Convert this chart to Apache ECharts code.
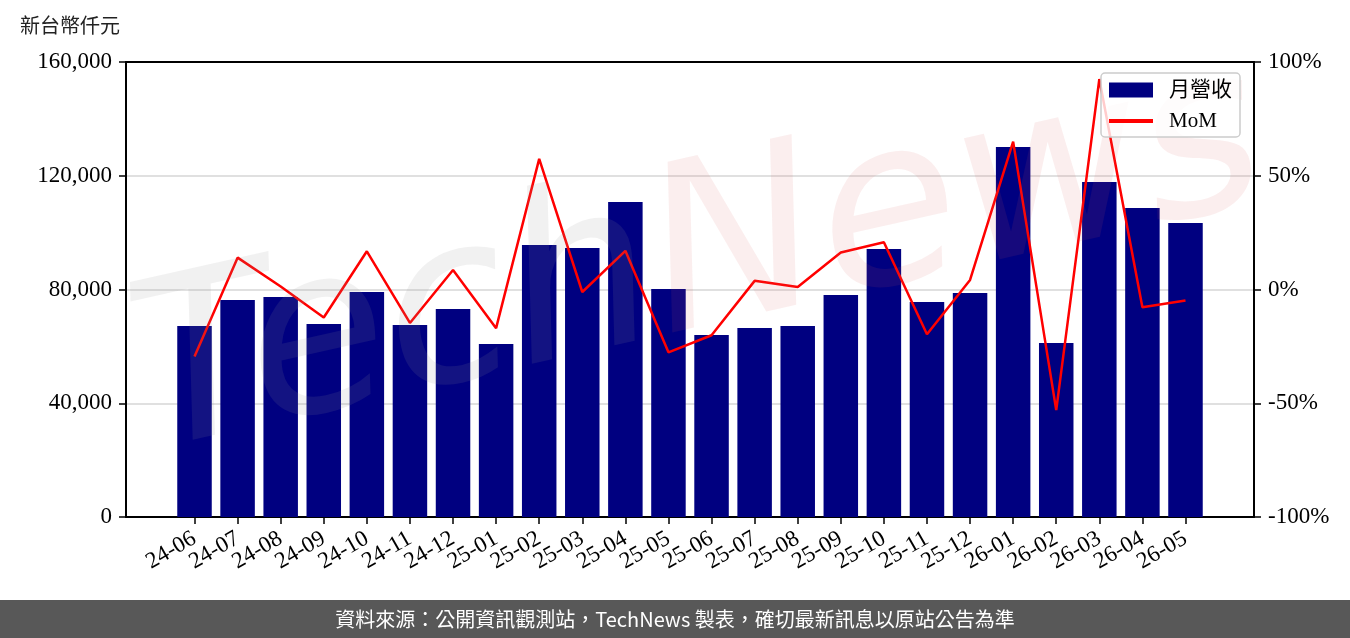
<!DOCTYPE html>
<html>
<head>
<meta charset="utf-8">
<script src="https://cdn.jsdelivr.net/npm/echarts@6/dist/echarts.min.js"></script>
<style>
html,body{margin:0;padding:0;background:#fff;}
#chart{width:1350px;height:638px;}
</style>
</head>
<body>
<div id="chart"></div>
<script>
const categories = ['24-06','24-07','24-08','24-09','24-10','24-11','24-12','25-01','25-02','25-03','25-04','25-05','25-06','25-07','25-08','25-09','25-10','25-11','25-12','26-01','26-02','26-03','26-04','26-05'];
const revenue = [67160, 76300, 77350, 67860, 79110, 67500, 73130, 60830, 95640, 94580, 110750, 80160, 64000, 66450, 67150, 78050, 94230, 75600, 78760, 130090, 61180, 117790, 108640, 103370];
const mom = [-29.5, 14.0, 1.3, -12.3, 16.8, -14.7, 8.6, -17.0, 57.4, -1.1, 17.0, -27.6, -20.1, 3.8, 1.1, 16.3, 20.8, -19.7, 4.2, 65.0, -53.0, 92.5, -7.8, -4.8];
const leftTicks = [0, 40000, 80000, 120000, 160000];
const rightTicks = [-100, -50, 0, 50, 100];
const unitLabel = '新台幣仟元';
const seriesNames = ['月營收', 'MoM'];
const footerText = '資料來源：公開資訊觀測站，TechNews 製表，確切最新訊息以原站公告為準';

const SERIF = '"Liberation Serif", "Noto Sans CJK TC", serif';
const CJK = '"Noto Sans CJK TC", sans-serif';
const X_MIN = -1.59, X_MAX = 24.59;
const idx = categories.map((c, i) => i);
const labelVals = [X_MIN].concat(idx, [X_MAX]);

const chart = echarts.init(document.getElementById('chart'), null, {renderer: 'canvas'});
chart.setOption({
  animation: false,
  backgroundColor: '#fff',
  grid: {left: 126, right: 96, top: 62, bottom: 121},
  legend: {
    right: 110, top: 73,
    orient: 'vertical',
    data: [{name: seriesNames[0], icon: 'rect'}, {name: seriesNames[1], icon: 'path://M0,0h44v4h-44z'}],
    itemWidth: 44, itemHeight: 15, itemGap: 9,
    padding: [6, 8, 5, 8],
    borderColor: '#cccccc', borderWidth: 1.5, borderRadius: 4,
    backgroundColor: 'rgba(255,255,255,0.8)',
    textStyle: {fontFamily: SERIF, fontSize: 21, color: '#000', padding: [0, 0, 0, 11], lineHeight: 22},
    z: 20
  },
  xAxis: [
    {
      type: 'value', min: X_MIN, max: X_MAX, position: 'bottom',
      axisLine: {show: true, onZero: false, lineStyle: {color: '#000', width: 2}},
      axisTick: {show: true, customValues: idx, length: 7, lineStyle: {color: '#000', width: 1.5}},
      axisLabel: {customValues: labelVals, hideOverlap: false,
        formatter: v => (Math.abs(v - Math.round(v)) < 1e-6 && categories[Math.round(v)]) ? categories[Math.round(v)] : '',
        rotate: 30, margin: 20, fontFamily: SERIF, fontSize: 23, color: '#000'},
      splitLine: {show: false}
    },
    {
      type: 'value', min: X_MIN, max: X_MAX, position: 'top',
      axisLine: {show: true, onZero: false, lineStyle: {color: '#000', width: 2}},
      axisTick: {show: false}, axisLabel: {show: false}, splitLine: {show: false}
    }
  ],
  yAxis: [
    {
      type: 'value', min: leftTicks[0], max: leftTicks[leftTicks.length - 1], interval: leftTicks[1] - leftTicks[0],
      position: 'left',
      axisLine: {show: true, onZero: false, lineStyle: {color: '#000', width: 2}},
      axisTick: {show: true, length: 7, lineStyle: {color: '#000', width: 1.5}},
      axisLabel: {margin: 14, fontFamily: SERIF, fontSize: 23, color: '#000', formatter: v => v.toLocaleString('en-US')},
      splitLine: {show: true, lineStyle: {color: '#d6d6d6', width: 1.5}}
    },
    {
      type: 'value', min: rightTicks[0], max: rightTicks[rightTicks.length - 1], interval: rightTicks[1] - rightTicks[0],
      position: 'right',
      axisLine: {show: true, onZero: false, lineStyle: {color: '#000', width: 2}},
      axisTick: {show: true, length: 7, lineStyle: {color: '#000', width: 1.5}},
      axisLabel: {margin: 14, fontFamily: SERIF, fontSize: 23, color: '#000', formatter: v => v + '%'},
      splitLine: {show: false}
    }
  ],
  series: [
    {
      name: seriesNames[0], type: 'bar', xAxisIndex: 0, yAxisIndex: 0,
      data: revenue.map((v, i) => [i, v]),
      barWidth: 34.5,
      itemStyle: {color: '#000080'},
      z: 2
    },
    {
      name: seriesNames[1], type: 'line', xAxisIndex: 0, yAxisIndex: 1,
      data: mom.map((v, i) => [i, v]),
      symbol: 'none', showSymbol: false,
      lineStyle: {color: '#ff0000', width: 2.5},
      itemStyle: {color: '#ff0000'},
      z: 3
    }
  ],
  graphic: [
    {
      type: 'text', x: 700, y: 265, rotation: 0.22, z: 10, silent: true,
      style: {
        text: '{a|Tech}{b|News}',
        align: 'center', verticalAlign: 'middle',
        rich: {
          a: {fontSize: 230, fontFamily: '"DejaVu Sans", sans-serif', fontStyle: 'italic', fill: 'rgba(150,150,150,0.13)'},
          b: {fontSize: 230, fontFamily: '"DejaVu Sans", sans-serif', fontStyle: 'italic', fill: 'rgba(220,90,90,0.10)'}
        }
      }
    },
    {
      type: 'text', left: 20, top: 15, z: 20,
      style: {text: unitLabel, fontFamily: CJK, fontSize: 20, fill: '#222'}
    },
    {
      type: 'rect', left: 0, top: 600, z: 20,
      shape: {width: 1350, height: 38},
      style: {fill: '#585858'}
    },
    {
      type: 'text', x: 675, y: 619, z: 21,
      style: {text: footerText, fontFamily: CJK, fontSize: 20, fill: '#fff', align: 'center', verticalAlign: 'middle'}
    }
  ]
});
</script>
</body>
</html>
